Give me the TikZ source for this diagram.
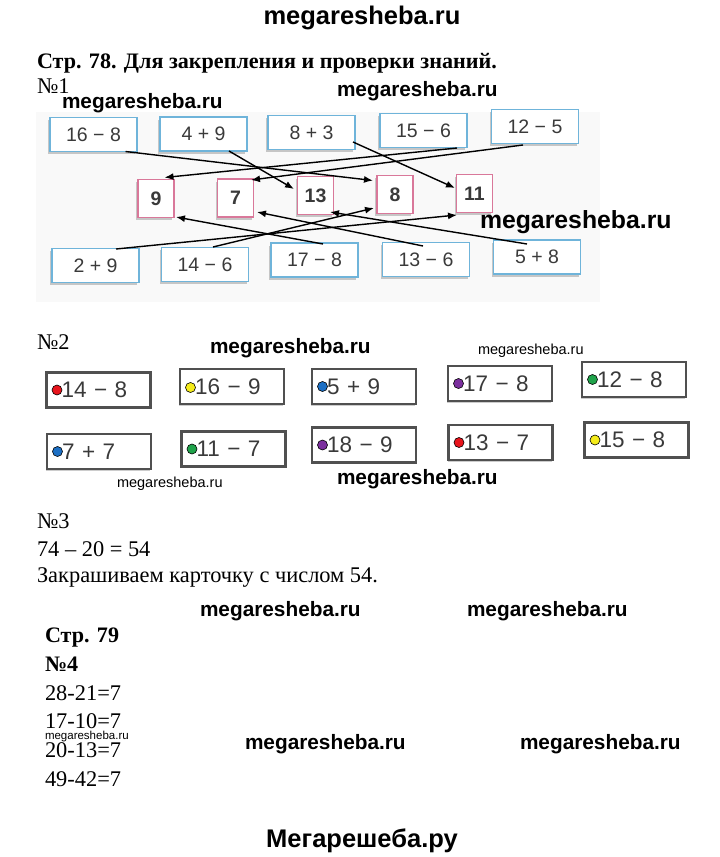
\documentclass[tikz,border=0pt]{standalone}
\usepackage{fontspec}
\setmainfont{Liberation Serif}
\newfontfamily\sansf{Liberation Sans}
\usetikzlibrary{arrows.meta,calc,shadows}
\definecolor{boxblue}{HTML}{6FB4DA}
\definecolor{boxpink}{HTML}{D9789A}
\definecolor{bggray}{HTML}{F9F9F9}
\definecolor{numgray}{HTML}{3A3A3A}
\definecolor{frametwo}{HTML}{505050}
\definecolor{dred}{HTML}{E8141C}
\definecolor{dyellow}{HTML}{F5EC1A}
\definecolor{dblue}{HTML}{1C6FC4}
\definecolor{dpurple}{HTML}{7B2F9E}
\definecolor{dgreen}{HTML}{1FA34A}
\begin{document}
\begin{tikzpicture}[x=1pt,y=-1pt,
  every node/.style={inner sep=0pt, outer sep=0pt},
  txt/.style={anchor=base west, font=\fontsize{22.4}{26}\selectfont},
  txtb/.style={anchor=base west, font=\fontsize{22.1}{26}\selectfont\bfseries},
  wm/.style={anchor=base west, font=\sansf\bfseries\fontsize{20.8}{24}\selectfont},
  wmbig/.style={anchor=base, font=\sansf\bfseries\fontsize{25.5}{28}\selectfont},
  wms/.style={anchor=base west, font=\sansf\fontsize{14.5}{16}\selectfont},
  shad/.style={drop shadow={shadow xshift=-2pt, shadow yshift=-2.5pt, fill=gray!45, opacity=1}},
  bluebox/.style={shad, draw=boxblue, line width=1.8pt, fill=white, minimum width=87pt, minimum height=34pt, font=\sansf\fontsize{19.5}{19.5}\selectfont, text=numgray},
  pinkbox/.style={shad, draw=boxpink, line width=1.8pt, fill=white, minimum width=36pt, minimum height=38pt, font=\sansf\bfseries\fontsize{19.5}{19.5}\selectfont, text=numgray},
  card/.style={drop shadow={shadow xshift=-1pt, shadow yshift=-1.5pt, fill=gray!40, opacity=1}, draw=frametwo, line width=2.6pt, fill=white, minimum width=104pt, minimum height=35pt, inner xsep=15pt, text width=74pt, align=left, font=\sansf\fontsize{22.5}{22.5}\selectfont, text=numgray},
  dot/.style={circle, draw=black, line width=0.6pt, minimum size=10pt},
  arr/.style={-{Latex[length=9pt,width=7pt]}, line width=1.4pt, black},
]
\useasboundingbox (0,0) rectangle (720,857);
\fill[white] (0,0) rectangle (720,857);

% headings and texts
\node[wmbig] (wtop) at (362,24) {megaresheba.ru};
\node[txtb] (h1) at (37,68) {Стр. 78. Для закрепления и проверки знаний.};
\node[txt] (n1) at (37,93) {№1};

% exercise 1 background
\fill[bggray] (36,112) rectangle (600,302);

% top boxes
\node[bluebox] (t1) at (93.5,134.5) {16 − 8};
\node[bluebox] (t2) at (203.5,134) {4 + 9};
\node[bluebox] (t3) at (311.5,132.5) {8 + 3};
\node[bluebox] (t4) at (423.5,130.5) {15 − 6};
\node[bluebox] (t5) at (535,126.5) {12 − 5};
% middle boxes
\node[pinkbox] (m1) at (156,198.5) {9};
\node[pinkbox] (m2) at (235.5,198) {7};
\node[pinkbox] (m3) at (315.5,195.5) {13};
\node[pinkbox] (m4) at (395,194.5) {8};
\node[pinkbox] (m5) at (474.5,193.5) {11};
% bottom boxes
\node[bluebox] (b1) at (95.5,265.5) {2 + 9};
\node[bluebox] (b2) at (205,264.5) {14 − 6};
\node[bluebox] (b3) at (314.5,260) {17 − 8};
\node[bluebox] (b4) at (426,259.5) {13 − 6};
\node[bluebox] (b5) at (537,257) {5 + 8};

% arrows
\draw[arr] ($(t1)+(32,17)$) -- ($(m4)+(-22,-14)$);
\draw[arr] ($(t2)+(25.5,17)$) -- ($(m3)+(-21.5,-6.5)$);
\draw[arr] ($(t3)+(41.5,9.5)$) -- ($(m5)+(-19.5,-5.5)$);
\draw[arr] ($(t4)+(33.5,17.5)$) -- ($(m1)+(8.5,-21)$);
\draw[arr] ($(t5)+(-12,18.5)$) -- ($(m2)+(15.5,-18)$);
\draw[arr] ($(b1)+(20.5,-16.5)$) -- ($(m5)+(-17.5,21.5)$);
\draw[arr] ($(b2)+(8,-17.5)$) -- ($(m4)+(-21,13.5)$);
\draw[arr] ($(b3)+(8.5,-16)$) -- ($(m1)+(20,18.5)$);
\draw[arr] ($(b4)+(-3,-13.5)$) -- ($(m2)+(21.5,14)$);
\draw[arr] ($(b5)+(-10,-13)$) -- ($(m3)+(14.5,16.5)$);

\node[wm] (w1) at (62,108) {megaresheba.ru};
\node[wm] (w2) at (337,96) {megaresheba.ru};
\node[wm, font=\sansf\bfseries\fontsize{24.8}{28}\selectfont] (w3) at (480,228) {megaresheba.ru};

% exercise 2
\node[txt] (n2) at (37,349) {№2};
\node[wm] (w4) at (210,353) {megaresheba.ru};
\node[wms] (w5) at (478,354) {megaresheba.ru};

\node[card] (r1) at (98.5,390) {14 − 8};
\node[card] (r2) at (232,386.5) {16 − 9};
\node[card] (r3) at (364,386.5) {5 + 9};
\node[card] (r4) at (500,383.5) {17 − 8};
\node[card] (r5) at (634,379.5) {12 − 8};
\node[card] (s1) at (99,451.5) {7 + 7};
\node[card] (s2) at (233.5,449) {11 − 7};
\node[card] (s3) at (364,445) {18 − 9};
\node[card] (s4) at (500.5,442.5) {13 − 7};
\node[card] (s5) at (636.5,440) {15 − 8};

\node[dot, fill=dred] (r1d) at ($(r1.west)+(10.5,0)$) {};
\node[dot, fill=dyellow] (r2d) at ($(r2.west)+(10.5,1)$) {};
\node[dot, fill=dblue] (r3d) at ($(r3.west)+(10.5,0)$) {};
\node[dot, fill=dpurple] (r4d) at ($(r4.west)+(10.5,0)$) {};
\node[dot, fill=dgreen] (r5d) at ($(r5.west)+(10.5,0)$) {};
\node[dot, fill=dblue] (s1d) at ($(s1.west)+(10.5,0)$) {};
\node[dot, fill=dgreen] (s2d) at ($(s2.west)+(10.5,0)$) {};
\node[dot, fill=dpurple] (s3d) at ($(s3.west)+(10.5,0)$) {};
\node[dot, fill=dred] (s4d) at ($(s4.west)+(10.5,0)$) {};
\node[dot, fill=dyellow] (s5d) at ($(s5.west)+(10.5,0)$) {};

\node[wms] (w6) at (117,487) {megaresheba.ru};
\node[wm] (w7) at (337,484) {megaresheba.ru};

% exercise 3
\node[txt] (n3) at (37,528) {№3};
\node[txt] (l3a) at (37,556) {74 – 20 = 54};
\node[txt] (l3b) at (37,582) {Закрашиваем карточку с числом 54.};
\node[wm] (w8) at (200,616) {megaresheba.ru};
\node[wm] (w9) at (467,616) {megaresheba.ru};

% exercise 4
\node[txtb] (p79) at (45,642) {Стр. 79};
\node[txtb] (n4) at (45,671) {№4};
\node[txt] (l4a) at (45,700) {28-21=7};
\node[txt] (l4b) at (45,728) {17-10=7};
\node[txt] (l4c) at (45,757) {20-13=7};
\node[txt] (l4d) at (45,786) {49-42=7};
\node[wms, font=\sansf\fontsize{11.5}{13}\selectfont] (w10) at (45,739.5) {megaresheba.ru};
\node[wm] (w11) at (245,749) {megaresheba.ru};
\node[wm] (w12) at (520,749) {megaresheba.ru};

\node[wmbig] (wbot) at (362,847) {Мегарешеба.ру};
\end{tikzpicture}
\end{document}
